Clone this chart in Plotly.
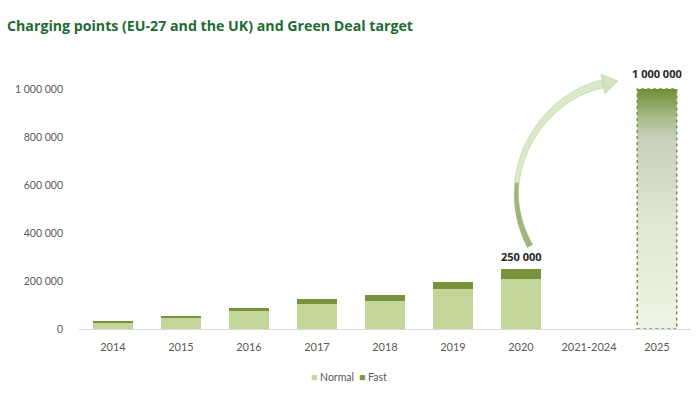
import numpy as np
import plotly.graph_objects as go

categories = ["2014", "2015", "2016", "2017", "2018", "2019", "2020", "2021-2024", "2025"]
normal = [27000, 47000, 75000, 105000, 118000, 167000, 210000, None, None]
fast = [4000, 9000, 12000, 18000, 22000, 29000, 40000, None, None]
target = [None, None, None, None, None, None, None, None, 1000000]
y_ticks = [0, 200000, 400000, 600000, 800000, 1000000]
y_tick_labels = ["0", "200 000", "400 000", "600 000", "800 000", "1 000 000"]
series_names = ["Normal", "Fast"]

NORMAL_C = "#c4d79b"
FAST_C = "#77933c"
BAR_W = 0.58

W, H = 696, 399
ML, MR, MT, MB = 79, 5, 65, 70
Y_MAX = 1100000
x_idx = list(range(len(categories)))

fig = go.Figure()
fig.add_trace(go.Bar(x=x_idx, y=normal, name=series_names[0], marker=dict(color=NORMAL_C, line=dict(width=0)), width=BAR_W))
fig.add_trace(go.Bar(x=x_idx, y=fast, name=series_names[1], marker=dict(color=FAST_C, line=dict(width=0)), width=BAR_W))

# target bar with vertical gradient and dotted border
ti = next(i for i, v in enumerate(target) if v is not None)
tv = target[ti]
fig.add_trace(go.Scatter(
    x=[ti - BAR_W / 2, ti + BAR_W / 2, ti + BAR_W / 2, ti - BAR_W / 2, ti - BAR_W / 2],
    y=[0, 0, tv, tv, 0],
    mode="lines", fill="toself",
    line=dict(color=FAST_C, width=1.5, dash="dot"),
    fillgradient=dict(type="vertical", colorscale=[
        [0.0, "#eef5e4"], [0.45, "#dfe6d3"], [0.8, "#c8cfba"], [0.88, "#a9bc8a"], [1.0, "#6f8f35"]]),
    showlegend=False, hoverinfo="skip"))

# data labels
totals = [(n or 0) + (f or 0) for n, f in zip(normal, fast)]
last = max(i for i, v in enumerate(normal) if v is not None)
fig.add_annotation(x=last, y=totals[last], text="<b>%s</b>" % f"{totals[last]:,}".replace(",", " "),
                   showarrow=False, yanchor="bottom", yshift=3,
                   font=dict(family="Open Sans", size=11, color="#262626"))
fig.add_annotation(x=ti, y=tv, text="<b>%s</b>" % f"{tv:,}".replace(",", " "),
                   showarrow=False, yanchor="bottom", yshift=6,
                   font=dict(family="Open Sans", size=11, color="#262626"))

# curved arrow (decoration) built in pixel space then mapped to data
pw = W - ML - MR
ph = H - MT - MB
def px_to_data(px, py):
    x = -0.5 + (px - ML) / pw * len(categories)
    y = (MT + ph - py) / ph * Y_MAX
    return x, y

P = np.array([[530, 246], [490, 172], [545, 95], [603, 84]], float)
t = np.linspace(0, 1, 60)[:, None]
B = (1 - t) ** 3 * P[0] + 3 * (1 - t) ** 2 * t * P[1] + 3 * (1 - t) * t ** 2 * P[2] + t ** 3 * P[3]
D = -3 * (1 - t) ** 2 * P[0] + 3 * ((1 - t) ** 2 - 2 * t * (1 - t)) * P[1] + 3 * (2 * t * (1 - t) - t ** 2) * P[2] + 3 * t ** 2 * P[3]
Nrm = np.stack([-D[:, 1], D[:, 0]], axis=1)
Nrm /= np.linalg.norm(Nrm, axis=1)[:, None]

def poly(t0, t1, w0, w1):
    sel = (t[:, 0] >= t0) & (t[:, 0] <= t1)
    b, n, tt = B[sel], Nrm[sel], t[sel, 0]
    hw = (w0 + (w1 - w0) * (tt - t0) / (t1 - t0))[:, None] / 2
    pts = np.vstack([b + n * hw, (b - n * hw)[::-1]])
    d = [px_to_data(*p) for p in pts]
    return "M " + " L ".join(f"{x:.4f},{y:.1f}" for x, y in d) + " Z"

fig.add_shape(type="path", path=poly(0, 1, 3, 8), fillcolor="#dbe8c9", line=dict(color="#c6d9ab", width=0.8), layer="above")
fig.add_shape(type="path", path=poly(0, 0.3, 6, 3), fillcolor="#9fb67a", line=dict(color="#9fb67a", width=0.5), layer="above")
tang = D[-1] / np.linalg.norm(D[-1])
nor = np.array([-tang[1], tang[0]])
tip = P[3] + tang * 15
c1 = P[3] + nor * 10
c2 = P[3] - nor * 10
hp = [px_to_data(*p) for p in (c1, tip, c2)]
fig.add_shape(type="path", path="M " + " L ".join(f"{x:.4f},{y:.1f}" for x, y in hp) + " Z",
              fillcolor="#d3e3bd", line=dict(color="#c2d6a4", width=0.8), layer="above")

# compact legend drawn under the axis (square + label)
leg_x = [0.375, 0.455]
for name, col, lx in zip(series_names, [NORMAL_C, FAST_C], leg_x):
    fig.add_annotation(xref="paper", yref="paper", x=lx, y=-0.18, xanchor="left", yanchor="middle",
                       text=f"<span style='color:{col}'>■</span> {name}", showarrow=False,
                       font=dict(family="Lato", size=10.5, color="#595959"))

fig.update_layout(
    width=W, height=H,
    margin=dict(l=ML, r=MR, t=MT, b=MB, autoexpand=False),
    barmode="stack",
    plot_bgcolor="white", paper_bgcolor="white",
    title=dict(text="<b>Charging points (EU-27 and the UK) and Green Deal target</b>",
               x=0, xanchor="left", y=0.935, yanchor="middle", pad=dict(l=7),
               font=dict(family="Open Sans", size=14.2, color="#1e6b32")),
    showlegend=False,
    xaxis=dict(range=[-0.5, len(categories) - 0.5], tickvals=x_idx, ticktext=categories,
               showgrid=False, zeroline=False, showline=True, linecolor="#d9d9d9", linewidth=1,
               ticks="", ticklabelstandoff=8, automargin=False,
               tickfont=dict(family="Lato", size=11, color="#595959")),
    yaxis=dict(range=[0, Y_MAX], tickvals=y_ticks, ticktext=y_tick_labels,
               showgrid=False, zeroline=False, showline=False, ticks="",
               ticklabelstandoff=15, automargin=False,
               tickfont=dict(family="Lato", size=10.5, color="#595959")),
)
fig.write_html("out.html", config={"displayModeBar": False},
               post_script="document.body.style.margin='0';document.body.style.overflow='hidden';")
